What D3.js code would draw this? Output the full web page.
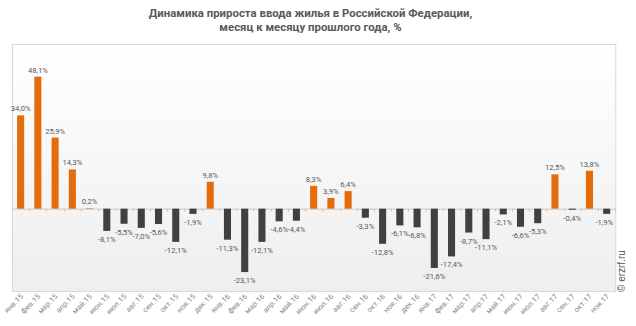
<!DOCTYPE html>
<html><head><meta charset="utf-8">
<script src="https://cdn.jsdelivr.net/npm/d3@7"></script>
<style>html,body{margin:0;padding:0;background:#fff;}svg{display:block;}</style>
</head><body>
<script>
const months = ["янв.15","фев.15","мар.15","апр.15","май.15","июн.15","июл.15","авг.15","сен.15","окт.15","ноя.15","дек.15",
"янв.16","фев.16","мар.16","апр.16","май.16","июн.16","июл.16","авг.16","сен.16","окт.16","ноя.16","дек.16",
"янв.17","фев.17","мар.17","апр.17","май.17","июн.17","июл.17","авг.17","сен.17","окт.17","ноя.17"];
const values = [34.0,48.1,25.9,14.3,0.2,-8.1,-5.5,-7.0,-5.6,-12.1,-1.9,9.8,
-11.3,-23.1,-12.1,-4.6,-4.4,8.3,3.9,6.4,-3.3,-12.8,-6.1,-6.8,
-21.6,-17.4,-8.7,-11.1,-2.1,-6.6,-5.3,12.5,-0.4,13.8,-1.9];
const titleLines = ["Динамика прироста ввода жилья в Российской Федерации,","месяц к месяцу прошлого года, %"];
const yDomain = [-30, 60];

(function(){
const W = 636, H = 326;
const pL = 12, pR = 615.3, pT = 44, pB = 291;
const svg = d3.select("body").append("svg").attr("width", W).attr("height", H);
const defs = svg.append("defs");
const grad = defs.append("linearGradient").attr("id","bg").attr("x1",0).attr("y1",0).attr("x2",0).attr("y2",1);
grad.append("stop").attr("offset","0%").attr("stop-color","#ffffff");
grad.append("stop").attr("offset","100%").attr("stop-color","#eeeeee");

svg.append("rect").attr("x",pL+0.5).attr("y",pT+0.5).attr("width",pR-pL).attr("height",pB-pT)
  .attr("fill","url(#bg)").attr("stroke","#d9d9d9").attr("stroke-width",1);

const x = d3.scaleBand().domain(months).range([pL,pR]).paddingInner(0.59).paddingOuter(0.295);
const y = d3.scaleLinear().domain(yDomain).range([pB, pT]);
const y0 = y(0);

const axisG = svg.append("g").attr("transform",`translate(0,${y0})`)
  .call(d3.axisBottom(x).tickSize(0).tickFormat(""));
axisG.select(".domain").attr("stroke","#c8c8c8").attr("d",`M${pL},0.5H${pR}`);
const bounds = months.map((m,i)=> pL + i*x.step());
bounds.push(pR);
svg.append("g").selectAll("line").data(bounds).join("line")
  .attr("x1",d=>Math.round(d)+0.5).attr("x2",d=>Math.round(d)+0.5)
  .attr("y1",y0).attr("y2",y0+3).attr("stroke","#c8c8c8");

const data = months.map((m,i)=>({m, v: values[i]}));
svg.append("g").selectAll("rect").data(data).join("rect")
  .attr("x",d=>x(d.m)).attr("width",x.bandwidth())
  .attr("y",d=>Math.min(y(d.v),y0)).attr("height",d=>Math.abs(y(d.v)-y0))
  .attr("fill",d=>d.v>=0?"#e46c0a":"#404040");

const fmt = v => v.toFixed(1).replace(".",",")+"%";
svg.append("g").selectAll("text").data(data).join("text")
  .attr("x",d=>Math.min(x(d.m)+x.bandwidth()/2, pR-11))
  .attr("y",d=>d.v>=0? y(d.v)-4 : y(d.v)+11)
  .attr("text-anchor","middle")
  .attr("font-family","Roboto, 'Open Sans', sans-serif").attr("font-size","7.6px").attr("fill","#595959")
  .text(d=>fmt(d.v));

svg.append("g").selectAll("text").data(months).join("text")
  .attr("transform",d=>`translate(${x(d)+x.bandwidth()/2+3},${pB+6}) rotate(-45)`)
  .attr("text-anchor","end")
  .attr("font-family","Roboto, 'Open Sans', sans-serif").attr("font-size","7.5px").attr("fill","#888")
  .text(d=>d);

svg.append("g").selectAll("text").data(titleLines).join("text")
  .attr("x",310.5).attr("y",(d,i)=>17+i*14)
  .attr("text-anchor","middle")
  .attr("font-family","Roboto, sans-serif").attr("font-weight","bold").attr("font-size","11.4px").attr("fill","#595959")
  .text(d=>d);

svg.append("text").attr("transform","translate(625,292) rotate(-90)")
  .attr("font-family","'Liberation Sans', Arial, sans-serif").attr("font-size","10px").attr("fill","#555")
  .text("© erzrf.ru");
})();
</script>
</body></html>
